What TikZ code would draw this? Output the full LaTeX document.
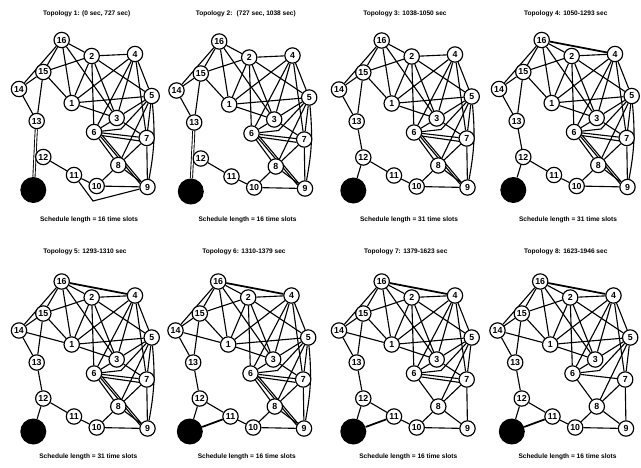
\documentclass[tikz,border=0pt]{standalone}
\usepackage{fontspec}
\setmainfont{Liberation Sans}
\usetikzlibrary{backgrounds}
\tikzset{
	vertex/.style={circle, draw=black, fill=white, line width=1pt, minimum size=0.46cm, inner sep=0pt, font=\fontsize{7.5}{7.5}\selectfont\bfseries},
	sink/.style={circle, fill=black, minimum size=0.78cm, inner sep=0pt},
	link/.style={line width=0.95pt},
	newlink/.style={line width=1.5pt},
	twinlink/.style={double, line width=0.75pt, double distance=1.1pt},
	heading/.style={font=\fontsize{5.6}{6}\selectfont\bfseries},
	footing/.style={font=\fontsize{5.6}{6}\selectfont\bfseries},
}
% links shared by every topology
\newcommand{\baselinks}{16/2,16/15,16/14,16/1,16/3,15/2,15/1,15/14,15/13,14/13,12/11,11/10,2/4,2/1,2/6,2/3,2/5,4/1,4/6,4/3,4/5,4/7,1/5,1/3,5/3,5/7,5/8,3/6,6/7,6/8,7/8,7/9,8/9,8/10,10/9}
% one network: prefix, x shift, y shift
\newcommand{\topology}[3]{%
	\begin{scope}[shift={(#2,#3)}]
		\foreach \idx/\px/\py in {16/61.7/40, 2/91.7/56, 4/135/54, 15/43.3/72, 14/19/89, 1/71.7/103, 5/151.7/96, 3/116.7/118, 13/36.7/121, 6/94/132, 7/146.7/138, 12/43.3/157, 8/118.3/165, 11/74/175, 10/96.7/186, 9/147.5/187}
			\node[vertex] (#1-\idx) at (\px,\py) {\idx};
		\node[sink] (#1-b) at (33.3,190) {};
		\coordinate (#1-dip) at (121,129);
		\coordinate (#1-low) at (93,201);
	\end{scope}
	\begin{pgfonlayer}{background}
		\foreach \a/\b in \baselinks
			\draw[link] (#1-\a) -- (#1-\b);
		\draw[link] (#1-6) -- (#1-dip) -- (#1-5);
	\end{pgfonlayer}
}

\begin{document}
\begin{tikzpicture}[x=0.03cm, y=-0.03cm]
	\useasboundingbox (0,0) rectangle (641,467);
	% upper row
	\topology{t1}{0}{0}
	\topology{t2}{157.5}{1.5}
	\topology{t3}{320}{0.5}
	\topology{t4}{480}{0}
	% lower row
	\topology{t5}{0}{241.5}
	\topology{t6}{156.5}{241.5}
	\topology{t7}{320}{241.5}
	\topology{t8}{478.5}{241.5}

	% headings
	\node[heading] (h1) at (86.7,14) {Topology 1: (0 sec, 727 sec)};
	\node[heading] (h2) at (245.8,14) {Topology 2:~ (727 sec, 1038 sec)};
	\node[heading] (h3) at (405,14) {Topology 3: 1038-1050 sec};
	\node[heading] (h4) at (565.8,14) {Topology 4: 1050-1293 sec};
	\node[heading] (h5) at (85,251.7) {Topology 5: 1293-1310 sec};
	\node[heading] (h6) at (244,251.7) {Topology 6: 1310-1379 sec};
	\node[heading] (h7) at (405.8,251.7) {Topology 7: 1379-1623 sec};
	\node[heading] (h8) at (565.8,251.7) {Topology 8: 1623-1946 sec};
	% schedule lengths
	\node[footing] (f1) at (89,220) {Schedule length = 16 time slots};
	\node[footing] (f2) at (247.5,220) {Schedule length = 16 time slots};
	\node[footing] (f3) at (409,220) {Schedule length = 31 time slots};
	\node[footing] (f4) at (568,220) {Schedule length = 31 time slots};
	\node[footing] (f5) at (88.3,456.7) {Schedule length = 31 time slots};
	\node[footing] (f6) at (246.7,456.7) {Schedule length = 16 time slots};
	\node[footing] (f7) at (408.3,456.7) {Schedule length = 16 time slots};
	\node[footing] (f8) at (567.5,456.7) {Schedule length = 16 time slots};

	% links that change from one topology to the next
	\begin{pgfonlayer}{background}
		\foreach \k in {1,2}
			\draw[twinlink] (t\k-13) -- (t\k-b);
		\foreach \k in {3,...,8}
			\draw[link] (t\k-13) -- (t\k-12) (t\k-12) -- (t\k-b);
		\draw[link] (t1-11) -- (t1-low) -- (t1-9);
		\foreach \k in {4,...,8}
			\draw[newlink] (t\k-16) -- (t\k-4);
		\foreach \k in {5,...,8}
			\draw[link] (t\k-14) -- (t\k-1);
		\foreach \k in {6,7,8}
			\draw[newlink] (t\k-b) -- (t\k-11);
		% dense cluster round 6
		\foreach \k in {1,...,6} {
			\draw[link] (t\k-6.-20) -- (t\k-9.140);
			\draw[link] (t\k-6.-35) -- (t\k-9.155);
			\draw[link] (t\k-5) to[bend left=8] (t\k-9);
			\draw[link] (t\k-3) -- (t\k-7);
			\draw[link] (t\k-6.-25) -- (t\k-7.200);
		}
		\draw[link] (t7-3) -- (t7-7);
		\draw[link] (t7-6.-25) -- (t7-7.200);
	\end{pgfonlayer}
\end{tikzpicture}
\end{document}
